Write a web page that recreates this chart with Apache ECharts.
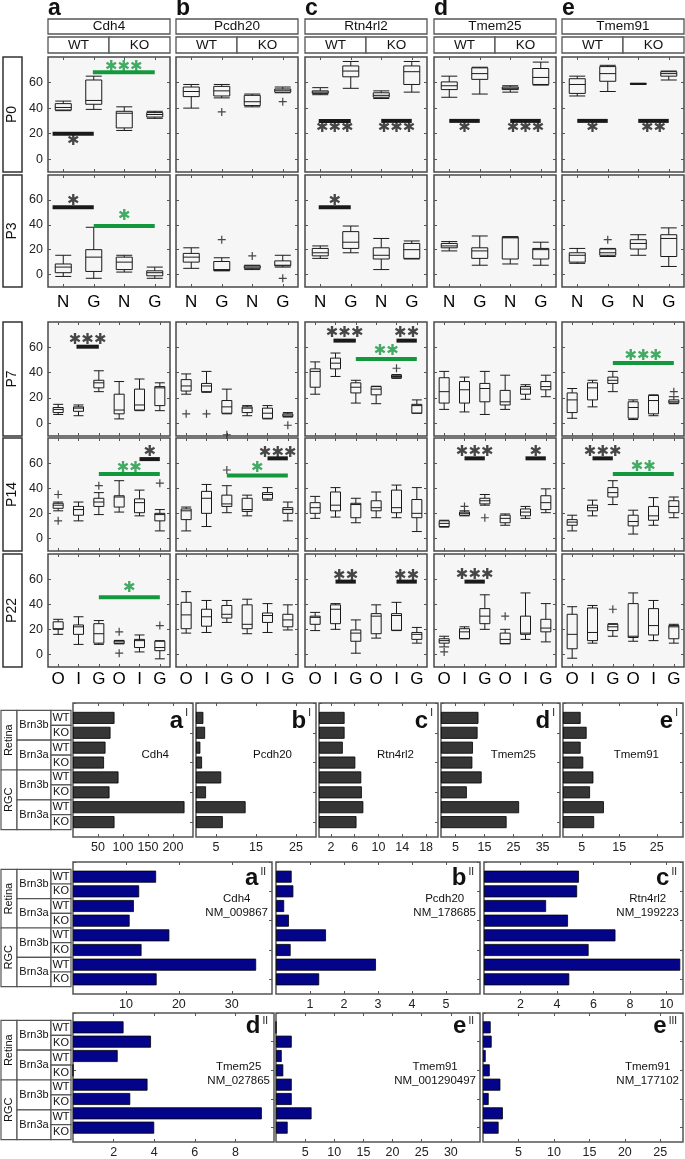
<!DOCTYPE html>
<html><head><meta charset="utf-8">
<script src="https://cdn.jsdelivr.net/npm/echarts@6/dist/echarts.min.js"></script>
<style>html,body{margin:0;padding:0;background:#fff}#c{width:685px;height:1159px}</style>
</head><body><div id="c"></div>
<script>
// ---------------- DATA ----------------
const genes = ['Cdh4','Pcdh20','Rtn4rl2','Tmem25','Tmem91'];
const panelLetters = ['a','b','c','d','e'];
const genotypes = ['WT','KO'];
const stages = ['P0','P3','P7','P14','P22'];
const catsEarly = ['N','G','N','G'];
const catsLate = ['O','I','G','O','I','G'];
const yTickVals = [0,20,40,60];

// boxes: [min, Q1, median, Q3, max] per category, per gene
const boxP0 = [
 [[38,38.5,40.5,43.5,45.5],[39,43,46,62,65],[22.5,24.5,36,37.5,41],[32,33,35,36.5,37.5]],
 [[40,49,53,56.5,58.5],[48,49.5,53.5,57,58.5],[41,42,45,50,51],[52,52.5,54,55,56.5]],
 [[50.5,51.5,52.5,53.5,56],[55.5,64.5,69,73,76.5],[47.5,48.5,50,52,53.5],[52.5,58.5,68.5,73,76.5]],
 [[48.5,54.5,57.5,60.5,65],[51,62.5,67,71.5,72],[52.5,54.5,55.5,56.5,57.5],[58,58.5,64,71,76]],
 [[49.5,51.5,58.5,63,65],[53,61,67,72.5,73.5],[58.5,58.8,59,59.2,59.5],[62,65,67,68.5,69]]
];
const outP0 = [[],[[1,37],[3,45]],[],[],[]];
const boxP3 = [
 [[-1.5,1.5,6,8.5,15.5],[-3,2.5,14,20,38],[2,4,10,14,15.5],[-3,-1,1.5,3,6]],
 [[5,10,14,17,21.5],[3,3.2,4,10.5,13.5],[4,5,6,7,7.5],[6,7,7.5,11,15.5]],
 [[13,15,17.5,21,23],[17.5,21,26,34.5,39],[4,12.5,15.5,21.5,29],[12.5,13,20,25,27]],
 [[19,21.5,23,25,26.5],[7.5,13,19,21.5,31],[8.5,12.5,29.5,30,30.5],[7.5,12.5,20,21,26]],
 [[9,10,15.5,17.5,21],[14.5,15.5,17.5,20.5,21],[15.5,20.5,25,28,32],[6.5,14.5,29,32,37.5]]
];
const outP3 = [[],[[1,28],[2,15],[3,-3]],[],[],[[1,28]]];
const boxP7 = [
 [[7,8.5,11,12.5,15],[6,9.5,12,13,14.5],[25,28,32,34,41.5],[3.5,7.5,10.5,23,33],[10,10.5,14.5,27,35],[10,14,28,29,32]],
 [[23,25.5,29.5,34.5,39],[24.5,25,29.5,31.5,41],[7.5,8,13,18,27],[6,8.5,12,13,14],[3.5,4,8,12,14],[5,5.3,6.5,7.5,8.5]],
 [[23,28.5,41,43,48.5],[37,43,47.5,51.5,55.5],[16,24,28.5,32,34],[15.5,22.5,27,29,29.3],[35.5,36,37,38,38.5],[8,8,14,15,18.5]],
 [[11,16,25,36,41],[9,16,26.5,33,36.5],[7,17,27.5,31.5,41],[11,14.5,17,26,38],[19,23,27,29,30.5],[21,26.5,29,33,38]],
 [[4,8.5,18.5,24,27.5],[13,18.5,28,32,34],[25,31.5,34,36.5,41],[3,4,12.5,17,18.5],[6,7.5,18,22,22.5],[15.5,16,17,18.5,21]]
];
const outP7 = [[],[[0,7.5],[1,7.5],[2,-9],[5,-1.5]],[[4,43.5]],[],[[5,25]]];
const boxP14 = [
 [[22,24,26.5,28,29],[14,18.5,23,25.5,29],[19,25.5,29,32,36.5],[21,25,33,34,46],[18,20.5,28.5,31.5,38.5],[6,14,19,20,23]],
 [[6,15,22,23.5,25],[9.5,20,32,37.5,43],[20.5,25.5,27.5,34.5,42],[18,21.5,23,32,34.5],[30.5,31.5,35,36.5,40.5],[14,20,23,24.5,29]],
 [[16,20,24.5,28.5,33.5],[17,22,26.5,37,40.5],[12.5,16.5,27,28,32],[16.5,22,24.5,30,37],[16.5,20.5,24.5,38.5,42.5],[5.5,16.5,20,31,40.5]],
 [[9,9.5,12,14,14.5],[18,18.5,20,21,22],[26.5,27.5,30,32,35],[10.5,12.5,16,18.5,19.5],[16,18,21,23.5,25.5],[20.5,23,28.5,34,39.5]],
 [[6,10.5,13,15,18.5],[18,22,24.5,26.5,30.5],[27,33,36.5,40.5,46],[3.5,10,13.5,18.5,22.5],[10.5,14.5,18,25.5,32.5],[16.5,20.5,25.5,30,33]]
];
const outP14 = [[[0,35],[0,14],[2,42],[5,44]],[[2,54.5]],[],[[1,25.5],[2,16.5]],[]];
const boxP22 = [
 [[16,20,20.5,26,28],[8,16,22,23.5,30],[8,9,16.5,24.5,27],[8.5,8.6,10,11,11.2],[2,5.5,11,12,15.5],[-3.5,3,5.5,10.5,11]],
 [[17,20.5,31.5,41.5,50],[17.5,22.5,30,36,43],[25.5,29,32,39,43],[16.5,20.5,24,39.5,44],[17.5,25.5,31,33,40.5],[19.5,22,27.5,32,39.5]],
 [[19,24,29.5,30.5,33.5],[20,24.5,36,39.5,40.5],[1,10.5,17,19.5,27.5],[13,16.5,30.5,32.5,39.5],[19,19.3,31,32.5,41.5],[9,12,16,17.5,21.5]],
 [[6,9,11,12.5,14.5],[12.5,12.6,18,20.5,22],[20,24.5,30.5,36.5,47.5],[8.5,8.6,12,17,20],[12,16,17,30.5,49],[10,18,21,28,40.5]],
 [[-3,4.5,16,32,38],[9,11,17.5,37,39],[14.5,19,22,24,24.5],[10.5,13.5,14.5,40.5,49],[11,15.5,23,36.5,43],[9,12.5,22,23,24]]
];
const outP22 = [[[3,18],[3,1],[5,23]],[],[],[[0,2],[3,30.5]],[[2,36]]];

// significance: [fromCat, toCat, barValue, starValue, stars, kind]  kind k=black, g=green
const sigP0 = [
 [[-0.35,1,20,13.8,'*','k'],[0.97,3,68,71.8,'***','g']],
 [],
 [[-0.05,1,30,24,'***','k'],[2,3,30,24,'***','k']],
 [[0,1,30,24,'*','k'],[2,3,30,24,'***','k']],
 [[0,1,30,24,'*','k'],[2,3,30,24,'**','k']]
];
const sigP3 = [
 [[-0.35,1,54,59.3,'*','k'],[1,3,39,46.8,'*','g']],
 [],
 [[-0.05,1,54,59.3,'*','k']],
 [],[]
];
const sigP7 = [
 [[0.9,2,60.5,65.8,'***','k']],
 [],
 [[0.9,2,65.3,71,'***','k'],[4,5,65.3,71,'**','k'],[2,5,50.8,57.4,'**','g']],
 [],
 [[2,5,47.7,53.4,'***','g']]
];
const sigP14 = [
 [[4,5,63.2,69,'*','k'],[2,5,51.3,55.8,'**','g']],
 [[4,5,63.8,68.2,'***','k'],[2,5,50.2,55.8,'*','g']],
 [],
 [[1,2,63.8,68.5,'***','k'],[4,5,63.8,68.5,'*','k']],
 [[1,2,63.8,68.5,'***','k'],[2,5,51.3,57,'**','g']]
];
const sigP22 = [
 [[2,5,45.5,52.8,'*','g']],
 [],
 [[1,2,58,62.7,'**','k'],[4,5,58,62.7,'**','k']],
 [[1,2,58,63.5,'***','k']],
 []
];

// bar panels
const tissueLabels = ['Retina','RGC'];
const lineLabels = ['Brn3b','Brn3a'];
const barCdh4_I   = [83,75,65,62,91,73,223,83];
const barPcdh20_I = [1.84,2.27,1.09,1.5,6.3,2.5,12.4,6.7];
const barRtn4rl2_I= [4.3,4.3,4.0,6.1,7.1,7.2,7.45,6.3];
const barTmem25_I = [12.9,12.6,11.0,10.8,14.0,8.9,26.9,22.6];
const barTmem91_I = [4.7,6.3,4.7,5.4,8.1,7.2,10.9,8.3];
const ticksI = [[50,100,150,200],[5,15,25],[2,6,10,14,18],[5,15,25,35],[5,15,25]];
const maxI = [240,30,20,41,32];

const barCdh4_II   = [15.7,12.5,11.5,10.7,18.2,12.95,34.6,15.8];
const barPcdh20_II = [0.46,0.51,0.24,0.38,1.47,0.43,2.94,1.27];
const barRtn4rl2_II= [5.2,5.1,3.4,4.6,7.2,5.73,10.75,4.67];
const barTmem25_II = [2.49,3.84,2.2,0,3.67,2.82,9.3,4.0];
const barTmem91_II = [0,2.7,0.98,1.25,2.7,2.7,6.1,2.0];
const barTmem91_III= [1.08,1.22,0.38,0.95,2.45,0.8,2.8,2.2];
const accessions = ['NM_009867','NM_178685','NM_199223','NM_027865','NM_001290497','NM_177102'];
const ticksII = [[10,20,30],[1,2,3,4,5],[2,4,6,8,10],[2,4,6,8],[5,10,15,20,25,30],[5,10,15,20,25]];
const maxII = [37.6,6,10.9,9.9,35,28.2];

// ---------------- BUILD ----------------
const FONT = '"Liberation Sans", Arial, Helvetica, sans-serif';
const colLeft=[48,176,305,434,562], colW=122;
const rowTop=[57,175,322,438,554], rowH=[115,112,114,113,113];
const stageBoxes=[boxP0,boxP3,boxP7,boxP14,boxP22];
const stageOut=[outP0,outP3,outP7,outP14,outP22];
const stageSig=[sigP0,sigP3,sigP7,sigP14,sigP22];
const GREEN='#14983e', BLACK='#1a1a1a';
const grids=[],xAxis=[],yAxis=[],series=[],graphic=[];
const plusPath='path://M0,5L10,5M5,0L5,10';
const noLine=()=>({show:false,onZero:false});

const meas=document.createElement('canvas').getContext('2d');
function tw(t,font){meas.font=font;return meas.measureText(t).width;}

function txt(x,y,text,font,opt){
  opt=opt||{};
  graphic.push({type:'text',x:x,y:y,rotation:opt.rot||0,z:20,silent:true,
    style:{text:text,font:font,fill:opt.fill||'#111',align:opt.align||'center',verticalAlign:opt.va||'middle',
           textAlign:opt.align||'center',textVerticalAlign:opt.va||'middle'}});
}
function rect(x,y,w,h,stroke,lw){
  graphic.push({type:'rect',z:19,silent:true,shape:{x:x,y:y,width:w,height:h},style:{fill:'#fff',stroke:stroke||'#555',lineWidth:lw||1.3}});
}

function addBoxPanel(r,c){
  const cats = r<2?catsEarly:catsLate;
  const bw = r<2?16:10;
  const g = grids.length;
  grids.push({left:colLeft[c],top:rowTop[r],width:colW,height:rowH[r],show:true,borderColor:'#4a4a4a',borderWidth:1.5,backgroundColor:'#f6f6f6'});
  const tick=()=>({show:true,inside:true,alignWithLabel:true,length:3,lineStyle:{color:'#555',width:1}});
  const xc=xAxis.length;
  xAxis.push({gridIndex:g,type:'category',data:cats,position:'bottom',axisLine:noLine(),axisTick:tick(),
    axisLabel:{show:(r===1||r===4),fontSize:17,color:'#000',margin:(r===1?7:4),fontFamily:FONT},splitLine:{show:false}});
  xAxis.push({gridIndex:g,type:'category',data:cats,position:'top',axisLine:noLine(),axisTick:tick(),axisLabel:{show:false},splitLine:{show:false}});
  const xv=xAxis.length;
  xAxis.push({gridIndex:g,type:'value',min:-0.5,max:cats.length-0.5,show:false,axisLine:noLine()});
  const yl=yAxis.length;
  const yt=()=>({show:true,inside:true,length:3,customValues:yTickVals,lineStyle:{color:'#555',width:1}});
  yAxis.push({gridIndex:g,type:'value',min:-10,max:80,position:'left',axisLine:noLine(),axisTick:yt(),
    axisLabel:{show:c===0,customValues:yTickVals,fontSize:12.5,color:'#222',margin:5,fontFamily:FONT},splitLine:{show:false}});
  yAxis.push({gridIndex:g,type:'value',min:-10,max:80,position:'right',axisLine:noLine(),axisTick:yt(),axisLabel:{show:false},splitLine:{show:false}});
  series.push({type:'boxplot',xAxisIndex:xc,yAxisIndex:yl,data:stageBoxes[r][c],boxWidth:[bw,bw],silent:true,
    itemStyle:{color:'rgba(0,0,0,0)',borderColor:'#1a1a1a',borderWidth:1}});
  if(stageOut[r][c].length) series.push({type:'scatter',xAxisIndex:xc,yAxisIndex:yl,data:stageOut[r][c],symbol:plusPath,symbolSize:8,silent:true,
    itemStyle:{color:'rgba(0,0,0,0)',borderColor:'#1a1a1a',borderWidth:1.2}});
  stageSig[r][c].forEach(s=>{
    const col = s[5]==='g'?GREEN:BLACK;
    series.push({type:'line',xAxisIndex:xv,yAxisIndex:yl,data:[[s[0],s[2]],[s[1],s[2]]],symbol:'none',silent:true,z:5,
      lineStyle:{color:col,width:4}});
    series.push({type:'scatter',xAxisIndex:xv,yAxisIndex:yl,data:[[(s[0]+s[1])/2,s[3]]],symbolSize:1,silent:true,z:6,
      itemStyle:{color:'rgba(0,0,0,0)'},
      label:{show:true,position:'inside',formatter:s[4].replace(/\*/g,'\u2731'),color:col,fontSize:15,fontFamily:'"DejaVu Sans", sans-serif'}});
  });
}
for(let r=0;r<5;r++) for(let c=0;c<5;c++) addBoxPanel(r,c);

// headers
for(let c=0;c<5;c++){
  txt(colLeft[c],9,panelLetters[c],'bold 23px '+FONT,{align:'left'});
  rect(colLeft[c],19,colW,15); txt(colLeft[c]+colW/2,26.5,genes[c],'13.5px '+FONT);
  for(let k=0;k<2;k++){ rect(colLeft[c]+k*colW/2,37,colW/2,16); txt(colLeft[c]+k*colW/2+colW/4,45,genotypes[k],'13.5px '+FONT); }
}
for(let r=0;r<5;r++){ rect(3,rowTop[r],19,rowH[r],'#333',1.5); txt(12.5,rowTop[r]+rowH[r]/2,stages[r],'14px '+FONT,{rot:Math.PI/2}); }

// bar panels
const rowCats = Array.from({length:10},(_,i)=>String(i));
function addBarPanel(x,y,w,h,vals,max,ticks,color){
  const g=grids.length;
  grids.push({left:x,top:y,width:w,height:h,show:true,borderColor:'#555',borderWidth:1.5,backgroundColor:'#fff'});
  const xt=()=>({show:true,inside:true,length:3,customValues:ticks,lineStyle:{color:'#555'}});
  const xb=xAxis.length;
  xAxis.push({gridIndex:g,type:'value',min:0,max:max,position:'bottom',axisLine:noLine(),axisTick:xt(),
    axisLabel:{customValues:ticks,fontSize:12.5,color:'#222',margin:4,fontFamily:FONT},splitLine:{show:false}});
  xAxis.push({gridIndex:g,type:'value',min:0,max:max,position:'top',axisLine:noLine(),axisTick:xt(),axisLabel:{show:false},splitLine:{show:false}});
  const yt=()=>({show:true,inside:true,length:3,lineStyle:{color:'#555'}});
  const yl=yAxis.length;
  yAxis.push({gridIndex:g,type:'category',data:rowCats,inverse:true,boundaryGap:false,position:'left',axisLine:noLine(),axisTick:yt(),axisLabel:{show:false}});
  yAxis.push({gridIndex:g,type:'category',data:rowCats,inverse:true,boundaryGap:false,position:'right',axisLine:noLine(),axisTick:yt(),axisLabel:{show:false}});
  series.push({type:'bar',xAxisIndex:xb,yAxisIndex:yl,data:['-'].concat(vals).concat(['-']),barWidth:12,silent:true,
    itemStyle:{color:color,borderColor:'#000',borderWidth:0.8}});
}
function addTable(gy,gh){
  const rh=gh/9, t0=gy+rh/2;
  for(let t=0;t<2;t++){ rect(1,t0+t*4*rh,16,4*rh,'#555',1.2); txt(9,t0+t*4*rh+2*rh,tissueLabels[t],'11px '+FONT,{rot:Math.PI/2}); }
  for(let j=0;j<4;j++){ rect(17,t0+j*2*rh,34,2*rh,'#555',1.2); txt(34,t0+j*2*rh+rh,lineLabels[j%2],'11px '+FONT); }
  for(let k=0;k<8;k++){ rect(51,t0+k*rh,20,rh,'#555',1.2); txt(61,t0+k*rh+rh/2,genotypes[k%2],'11px '+FONT); }
}
function panelTag(right,top,letter,sup,ly,sy){
  const sw=tw(sup,'10px '+FONT);
  txt(right-sw-6,top+ly,letter,'bold 24px '+FONT,{align:'right'});
  txt(right-sw-4,top+sy,sup,'10px '+FONT,{align:'left'});
}
// section I
const secI=[[73,193],[196,316],[319,438],[441,560],[563,683]];
const valsI=[barCdh4_I,barPcdh20_I,barRtn4rl2_I,barTmem25_I,barTmem91_I];
for(let i=0;i<5;i++){
  const [x0,x1]=secI[i];
  addBarPanel(x0,703,x1-x0,134,valsI[i],maxI[i],ticksI[i],'#363636');
  panelTag(x1-1,703,panelLetters[i],'I',18,10);
  txt(x1-24,755,genes[i],'11.5px '+FONT,{align:'right'});
}
addTable(703,134);
// section II
const secII=[[73,272,862,132],[276,480,862,132],[484,683,862,132],[73,274,1013,134],[276,480,1013,134],[483,683,1013,134]];
const valsII=[barCdh4_II,barPcdh20_II,barRtn4rl2_II,barTmem25_II,barTmem91_II,barTmem91_III];
const tagII=[['a','II'],['b','II'],['c','II'],['d','II'],['e','II'],['e','III']];
const geneII=['Cdh4','Pcdh20','Rtn4rl2','Tmem25','Tmem91','Tmem91'];
for(let i=0;i<6;i++){
  const [x0,x1,y0,h]=secII[i];
  addBarPanel(x0,y0,x1-x0,h,valsII[i],maxII[i],ticksII[i],'#04048a');
  const sec3=i>=3;
  panelTag(x1-2,y0,tagII[i][0],tagII[i][1],sec3?13:16,sec3?8:10);
  const f='11.5px '+FONT;
  const w=tw(accessions[i],f);
  const gy=sec3?54:37;
  txt(x1-4,y0+gy+13.5,accessions[i],f,{align:'right'});
  txt(x1-4-w/2,y0+gy,geneII[i],f);
}
addTable(862,132);
addTable(1013,134);

const chart=echarts.init(document.getElementById('c'),null,{renderer:'canvas'});
chart.setOption({animation:false,backgroundColor:'#fff',textStyle:{fontFamily:FONT},
  grid:grids,xAxis:xAxis,yAxis:yAxis,series:series,graphic:{elements:graphic}});
</script></body></html>
